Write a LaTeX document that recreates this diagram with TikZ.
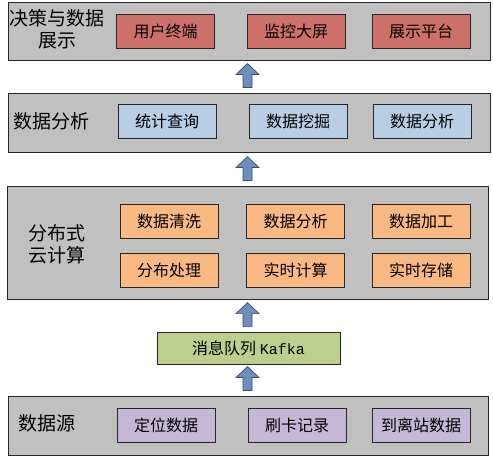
\documentclass[tikz,border=0pt]{standalone}
\usepackage{fontspec}
\setmainfont{Noto Sans CJK SC}
\setmonofont{Liberation Mono}
\usetikzlibrary{calc}

\definecolor{layergray}{RGB}{192,192,192}
\definecolor{boxred}{RGB}{205,112,106}
\definecolor{boxblue}{RGB}{185,205,229}
\definecolor{boxorange}{RGB}{250,184,130}
\definecolor{boxgreen}{RGB}{188,207,140}
\definecolor{boxpurple}{RGB}{196,184,214}
\definecolor{arrowblue}{RGB}{108,143,190}
\definecolor{arrowline}{RGB}{58,76,104}

\newcommand{\blockarrow}[1]{%
  \draw[uparrow] (#1) -- ++(4.5,0) -- ++(0,-13) -- ++(7,0) -- ++(-11.5,-11)
    -- ++(-11.5,11) -- ++(7,0) -- ++(0,13) -- cycle;}

\begin{document}
\begin{tikzpicture}[x=1pt, y=-1pt,
    layer/.style={draw=black!85, line width=0.9pt, fill=layergray, inner sep=0pt},
    item/.style={draw=black!85, line width=0.8pt, minimum width=98pt, minimum height=34pt,
                 inner sep=0pt, font=\fontsize{16}{19}\selectfont},
    title/.style={inner sep=0pt, align=center, font=\fontsize{19}{22}\selectfont},
    uparrow/.style={fill=arrowblue, draw=arrowline, line width=0.7pt, line join=miter}]
    \useasboundingbox (0,0) rectangle (493,458);

    \node[layer, minimum width=482pt, minimum height=58pt] (L1) at (249,31) {};
    \node[layer, minimum width=482pt, minimum height=59pt] (L2) at (249,122.5) {};
    \node[layer, minimum width=481pt, minimum height=113pt] (L3) at (247.5,242.5) {};
    \node[item, fill=boxgreen, minimum width=183pt, minimum height=32pt] (K) at (248.5,348)
        {消息队列 {\ttfamily\fontsize{15}{18}\selectfont Kafka}};
    \node[layer, minimum width=480pt, minimum height=59pt] (L5) at (248,425.5) {};

    \node[title] (T1) at (57,29) {决策与数据\\展示};
    \node[title, anchor=west] (T2) at (13,121) {数据分析};
    \node[title] (T3) at (56.5,244) {分布式\\云计算};
    \node[title, anchor=west] (T5) at (18,423) {数据源};

    \node[item, fill=boxred] (U1) at (165.5,31) {用户终端};
    \node[item, fill=boxred] (U2) at (296,31) {监控大屏};
    \node[item, fill=boxred] (U3) at (421,31) {展示平台};

    \node[item, fill=boxblue] (S1) at (167,121.5) {统计查询};
    \node[item, fill=boxblue] (S2) at (298,121.5) {数据挖掘};
    \node[item, fill=boxblue] (S3) at (422,121.5) {数据分析};

    \node[item, fill=boxorange] (C1) at (169,221) {数据清洗};
    \node[item, fill=boxorange] (C2) at (295.5,221) {数据分析};
    \node[item, fill=boxorange] (C3) at (421,221) {数据加工};
    \node[item, fill=boxorange] (C4) at (169,270) {分布处理};
    \node[item, fill=boxorange] (C5) at (295.5,270) {实时计算};
    \node[item, fill=boxorange] (C6) at (421,270) {实时存储};

    \node[item, fill=boxpurple] (D1) at (166,425) {定位数据};
    \node[item, fill=boxpurple] (D2) at (297,425) {刷卡记录};
    \node[item, fill=boxpurple] (D3) at (421,425) {到离站数据};

    \coordinate (A1) at ($(L2.north)+(-1.5,-5)$);
    \coordinate (A2) at ($(L3.north)+(0,-5)$);
    \coordinate (A3) at ($(K.north)+(-1,-5)$);
    \coordinate (A4) at ($(L5.north)+(-0.5,-5)$);
    \blockarrow{A1}
    \blockarrow{A2}
    \blockarrow{A3}
    \blockarrow{A4}
\end{tikzpicture}
\end{document}
